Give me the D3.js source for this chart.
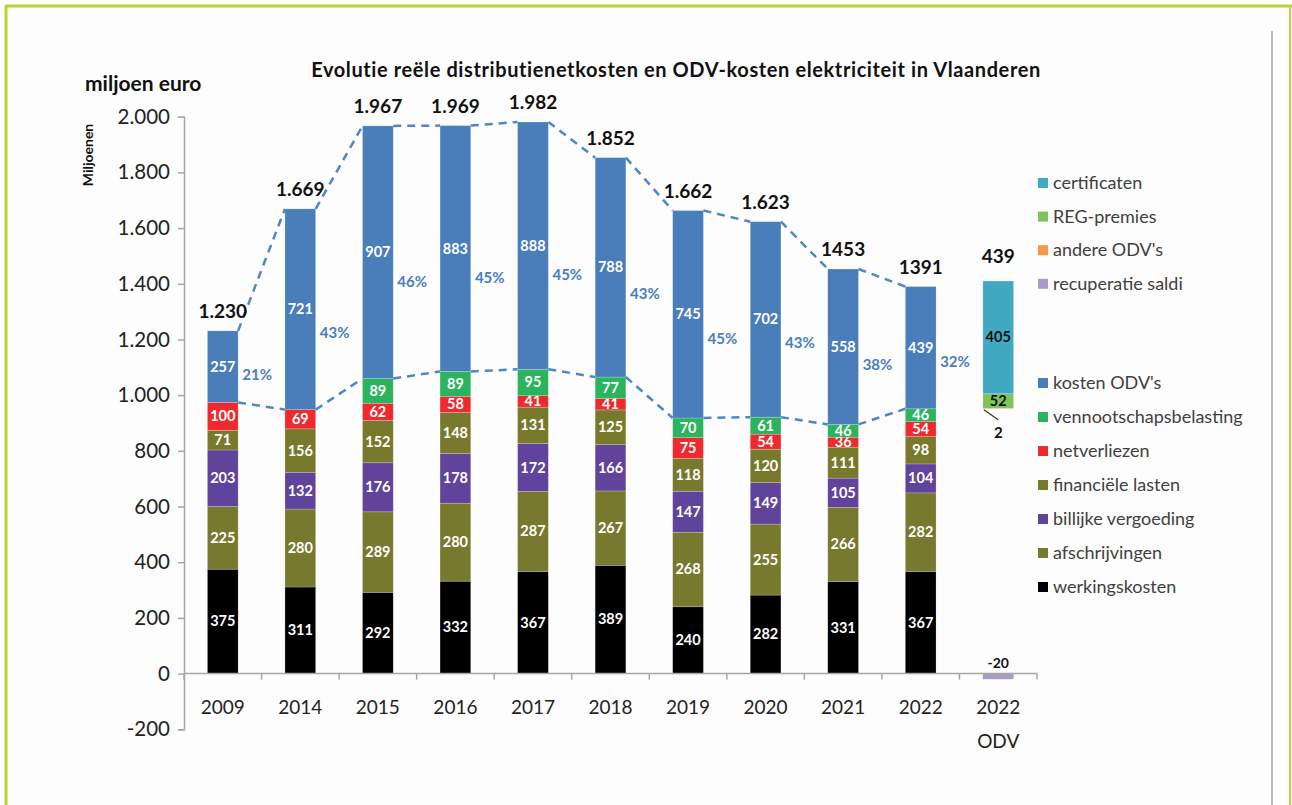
<!DOCTYPE html>
<html>
<head>
<meta charset="utf-8">
<script src="https://cdn.jsdelivr.net/npm/d3@7"></script>
<style>
  body { margin: 0; background: #fff; }
  svg { display: block; font-family: Lato, "Open Sans", sans-serif; }
</style>
</head>
<body>
<div id="chart"></div>
<script>
// Categories
const years = ["2009", "2014", "2015", "2016", "2017", "2018", "2019", "2020", "2021", "2022"];
const odvCategory = "2022 ODV";

// Distribution cost components (miljoen euro), bottom to top
const werkingskosten = [375, 311, 292, 332, 367, 389, 240, 282, 331, 367];
const afschrijvingen = [225, 280, 289, 280, 287, 267, 268, 255, 266, 282];
const billijkeVergoeding = [203, 132, 176, 178, 172, 166, 147, 149, 105, 104];
const financieleLasten = [71, 156, 152, 148, 131, 125, 118, 120, 111, 98];
const netverliezen = [100, 69, 62, 58, 41, 41, 75, 54, 36, 54];
const vennootschapsbelasting = [0, 0, 89, 89, 95, 77, 70, 61, 46, 46];
const kostenODV = [257, 721, 907, 883, 888, 788, 745, 702, 558, 439];
const totalLabels = ["1.230", "1.669", "1.967", "1.969", "1.982", "1.852", "1.662", "1.623", "1453", "1391"];

// ODV 2022 breakdown
const andereODV = 2;
const regPremies = 52;
const certificaten = 405;
const recuperatieSaldi = -20;
const odvTotalLabel = "439";

const yTicks = [-200, 0, 200, 400, 600, 800, 1000, 1200, 1400, 1600, 1800, 2000];

const series = [
    { key: "werkingskosten", label: "werkingskosten", values: werkingskosten, color: "#000000" },
    { key: "afschrijvingen", label: "afschrijvingen", values: afschrijvingen, color: "#77792f" },
    { key: "billijke", label: "billijke vergoeding", values: billijkeVergoeding, color: "#60439a" },
    { key: "financiele", label: "financiële lasten", values: financieleLasten, color: "#79792e" },
    { key: "netverliezen", label: "netverliezen", values: netverliezen, color: "#ee2a2e" },
    { key: "vennootschap", label: "vennootschapsbelasting", values: vennootschapsbelasting, color: "#2cb35d" },
    { key: "kostenODV", label: "kosten ODV's", values: kostenODV, color: "#4a7ebb" }
];

const odvLegend = [
    { label: "certificaten", color: "#41a9c1" },
    { label: "REG-premies", color: "#7fc45b" },
    { label: "andere ODV's", color: "#f79646" },
    { label: "recuperatie saldi", color: "#a99bc9" }
];

const W = 1292, H = 805;
const svg = d3.select("#chart").append("svg")
    .attr("width", W)
    .attr("height", H);

// Frame
svg.append("rect").attr("x", 0).attr("y", 0).attr("width", W).attr("height", H).attr("fill", "#fff");
svg.append("rect").attr("x", 7).attr("y", 7).attr("width", W - 9).attr("height", H).attr("fill", "#fdfdfd");
const frame = "#b8d436";
svg.append("line").attr("x1", 5).attr("x2", W).attr("y1", 6).attr("y2", 6).attr("stroke", frame).attr("stroke-width", 3);
svg.append("line").attr("x1", 6).attr("x2", 6).attr("y1", 5).attr("y2", H).attr("stroke", frame).attr("stroke-width", 3);
svg.append("line").attr("x1", 1290).attr("x2", 1290).attr("y1", 5).attr("y2", H).attr("stroke", frame).attr("stroke-width", 2);
svg.append("line").attr("x1", 1272).attr("x2", 1272).attr("y1", 31).attr("y2", H).attr("stroke", "#bdbdbd").attr("stroke-width", 2);

// Scales
const categories = years.concat([odvCategory]);
const x = d3.scaleBand()
    .domain(categories)
    .range([184, 1037])
    .paddingInner(0.604)
    .paddingOuter(0.302);

const y = d3.scaleLinear()
    .domain([-200, 2000])
    .range([729.3, 116.7]);

const nl = d3.formatLocale({ decimal: ",", thousands: ".", grouping: [3], currency: ["€", ""], minus: "-" });
const fmt = nl.format(",d");

// Title
svg.append("text")
    .attr("x", 676)
    .attr("y", 77)
    .attr("text-anchor", "middle")
    .style("font-size", "20px")
    .style("letter-spacing", "0.6px")
    .style("font-weight", "bold")
    .style("fill", "#111")
    .text("Evolutie reële distributienetkosten en ODV-kosten elektriciteit in Vlaanderen");

svg.append("text")
    .attr("x", 85)
    .attr("y", 91)
    .style("font-size", "21px")
    .style("font-weight", "bold")
    .style("fill", "#111")
    .text("miljoen euro");

svg.append("text")
    .attr("transform", "translate(93,155) rotate(-90)")
    .attr("text-anchor", "middle")
    .style("font-size", "14px")
    .style("font-weight", "bold")
    .style("fill", "#111")
    .text("Miljoenen");

// Y axis
const yAxis = svg.append("g")
    .attr("transform", "translate(184,0)")
    .call(d3.axisLeft(y).tickValues(yTicks).tickFormat(fmt).tickSize(6).tickPadding(8));
yAxis.select(".domain").attr("stroke", "#a6a6a6").attr("stroke-width", 1.5);
yAxis.selectAll(".tick line").attr("stroke", "#a6a6a6").attr("stroke-width", 1.5);
yAxis.selectAll(".tick text")
    .style("font-size", "20.5px")
    .style("font-family", "Lato, sans-serif")
    .style("fill", "#222");

// Stack the yearly bars
const rows = years.map((yr, i) => {
    const r = { year: yr };
    series.forEach(s => { r[s.key] = s.values[i]; });
    return r;
});
const stacked = d3.stack().keys(series.map(s => s.key))(rows);
const colorOf = {};
series.forEach(s => { colorOf[s.key] = s.color; });

const bw = x.bandwidth();

const layers = svg.append("g").selectAll("g")
    .data(stacked)
    .enter()
    .append("g")
    .attr("fill", d => colorOf[d.key]);

layers.selectAll("rect")
    .data(d => d.filter(p => p[1] - p[0] > 0))
    .enter()
    .append("rect")
    .attr("x", d => x(d.data.year))
    .attr("y", d => y(d[1]))
    .attr("width", bw)
    .attr("height", d => y(d[0]) - y(d[1]))
    .attr("stroke", "rgba(255,255,255,0.35)")
    .attr("stroke-width", 0.6);

layers.selectAll("text")
    .data(d => d.filter(p => p[1] - p[0] > 0))
    .enter()
    .append("text")
    .attr("x", d => x(d.data.year) + bw / 2)
    .attr("y", d => y((d[0] + d[1]) / 2) + 5)
    .attr("text-anchor", "middle")
    .style("font-size", "14.5px")
    .style("font-weight", "bold")
    .style("fill", "#fff")
    .text(d => d[1] - d[0]);

// Series lines (dashed) connecting top of ODV-costs and base of ODV-costs
const topLayer = stacked[stacked.length - 1];
const lineColor = "#4f86c6";
const dashed = svg.append("g")
    .attr("fill", "none")
    .attr("stroke", lineColor)
    .attr("stroke-width", 2.5)
    .attr("stroke-dasharray", "8,6");
for (let i = 0; i < years.length - 1; i++) {
    const a = topLayer[i], b = topLayer[i + 1];
    dashed.append("line")
        .attr("x1", x(years[i]) + bw).attr("y1", y(a[1]))
        .attr("x2", x(years[i + 1])).attr("y2", y(b[1]));
    dashed.append("line")
        .attr("x1", x(years[i]) + bw).attr("y1", y(a[0]))
        .attr("x2", x(years[i + 1])).attr("y2", y(b[0]));
}

// Share of ODV costs, placed right of each bar
svg.append("g").selectAll("text")
    .data(topLayer)
    .enter()
    .append("text")
    .attr("x", d => x(d.data.year) + bw + 19)
    .attr("y", d => y(d[0] + 0.38 * (d[1] - d[0])) + 5)
    .attr("text-anchor", "middle")
    .style("font-size", "15px")
    .style("font-weight", "bold")
    .style("fill", "#4a7ebb")
    .text(d => Math.round(100 * (d[1] - d[0]) / d[1]) + "%");

// Totals above bars
svg.append("g").selectAll("text")
    .data(topLayer)
    .enter()
    .append("text")
    .attr("x", d => x(d.data.year) + bw / 2)
    .attr("y", (d, i) => y(d[1]) - 13)
    .attr("text-anchor", "middle")
    .style("font-size", "19px")
    .style("font-weight", "bold")
    .style("fill", "#111")
    .text((d, i) => totalLabels[i]);

// ODV 2022 floating bar, starting on top of the 2022 network costs
const odvBase = topLayer[topLayer.length - 1][0];
const odvParts = [
    { value: andereODV, color: odvLegend[2].color, textColor: "#111" },
    { value: regPremies, color: odvLegend[1].color, textColor: "#111" },
    { value: certificaten, color: odvLegend[0].color, textColor: "#111" }
];
let acc = odvBase;
odvParts.forEach(p => { p.y0 = acc; p.y1 = acc + p.value; acc = p.y1; });
const xo = x(odvCategory);
const odvG = svg.append("g");
odvG.selectAll("rect")
    .data(odvParts)
    .enter()
    .append("rect")
    .attr("x", xo)
    .attr("y", d => y(d.y1))
    .attr("width", bw)
    .attr("height", d => y(d.y0) - y(d.y1))
    .attr("fill", d => d.color)
    .attr("stroke", "rgba(255,255,255,0.35)")
    .attr("stroke-width", 0.6);
odvG.selectAll("text.seg")
    .data(odvParts.filter(p => p.value > 10))
    .enter()
    .append("text")
    .attr("class", "seg")
    .attr("x", xo + bw / 2)
    .attr("y", d => y((d.y0 + d.y1) / 2) + 5)
    .attr("text-anchor", "middle")
    .style("font-size", "14.5px")
    .style("font-weight", "bold")
    .style("fill", d => d.textColor)
    .text(d => d.value);

// Leader line and label for the tiny "andere ODV's" slice
odvG.append("line")
    .attr("x1", xo + 1).attr("y1", y(odvBase) + 1)
    .attr("x2", xo + bw / 2).attr("y2", y(odvBase) + 11)
    .attr("stroke", "#333").attr("stroke-width", 1.2);
odvG.append("text")
    .attr("x", xo + bw / 2)
    .attr("y", y(odvBase) + 29)
    .attr("text-anchor", "middle")
    .style("font-size", "15px")
    .style("font-weight", "bold")
    .style("fill", "#111")
    .text(andereODV);

// Recuperatie saldi below zero
odvG.append("rect")
    .attr("x", xo)
    .attr("y", y(0))
    .attr("width", bw)
    .attr("height", y(recuperatieSaldi) - y(0))
    .attr("fill", odvLegend[3].color);
odvG.append("text")
    .attr("x", xo + bw / 2)
    .attr("y", y(0) - 6)
    .attr("text-anchor", "middle")
    .style("font-size", "14px")
    .style("font-weight", "bold")
    .style("fill", "#111")
    .text(recuperatieSaldi);

odvG.append("text")
    .attr("x", xo + bw / 2)
    .attr("y", y(acc) - 18)
    .attr("text-anchor", "middle")
    .style("font-size", "19px")
    .style("font-weight", "bold")
    .style("fill", "#111")
    .text(odvTotalLabel);

// X axis at zero with boundary ticks between categories
const xAxisG = svg.append("g").attr("transform", `translate(0,${y(0)})`);
xAxisG.append("line")
    .attr("x1", x.range()[0]).attr("x2", x.range()[1])
    .attr("stroke", "#a6a6a6").attr("stroke-width", 1.5);
xAxisG.selectAll("line.tick")
    .data(d3.range(categories.length + 1))
    .enter()
    .append("line")
    .attr("class", "tick")
    .attr("x1", i => x.range()[0] + i * x.step())
    .attr("x2", i => x.range()[0] + i * x.step())
    .attr("y1", 0).attr("y2", 6)
    .attr("stroke", "#a6a6a6").attr("stroke-width", 1.5);
const xl = xAxisG.selectAll("text")
    .data(categories)
    .enter()
    .append("text")
    .attr("x", d => x(d) + bw / 2)
    .attr("y", 40)
    .attr("text-anchor", "middle")
    .style("font-size", "19px")
    .style("fill", "#222");
xl.each(function(d) {
    const parts = d.split(" ");
    const t = d3.select(this);
    parts.forEach((p, i) => {
        t.append("tspan")
            .attr("x", x(d) + bw / 2)
            .attr("dy", i === 0 ? 0 : 34)
            .text(p);
    });
});

// Legend
const legend = svg.append("g").attr("transform", "translate(1038,0)");
const legendItems = odvLegend.map((d, i) => ({ label: d.label, color: d.color, y: 183 + i * 33.6 }))
    .concat(series.slice().reverse().map((s, i) => ({ label: s.label, color: s.color, y: 383 + i * 34 })));
const li = legend.selectAll("g")
    .data(legendItems)
    .enter()
    .append("g")
    .attr("transform", d => `translate(0,${d.y})`);
li.append("rect")
    .attr("x", 0).attr("y", -5)
    .attr("width", 10).attr("height", 10)
    .attr("fill", d => d.color);
li.append("text")
    .attr("x", 15)
    .attr("y", 6)
    .style("font-size", "18px")
    .style("fill", "#404040")
    .text(d => d.label);
</script>
</body>
</html>
